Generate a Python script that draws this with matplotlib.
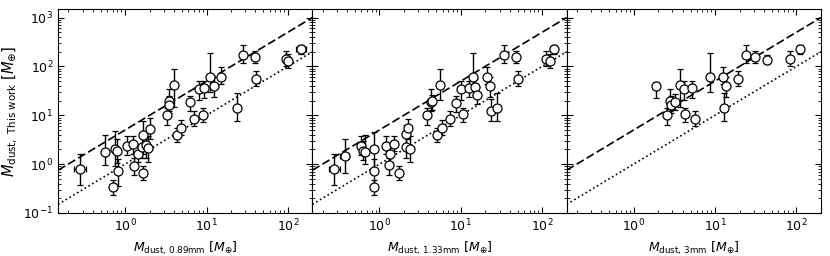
import numpy as np
import matplotlib
matplotlib.use("Agg")
from matplotlib import pyplot as plt

# Panel 1: M_dust at 0.89 mm vs this work
x_089 = [0.28, 0.56, 0.745, 0.80, 0.82, 0.70, 1.05, 1.25, 1.30, 1.45, 1.60, 1.68, 1.68, 1.82, 1.90, 2.0,
         3.3, 3.45, 3.5, 3.95, 4.4, 4.8, 6.3, 7.1, 8.1, 9.1, 9.3, 10.9, 12.5, 15.1, 23.4, 28.0, 39.4,
         40.7, 96.0, 100.0, 144.0]
y_089 = [0.79, 1.77, 2.07, 1.9, 0.71, 0.34, 2.3, 2.6, 0.92, 1.63, 2.2, 4.0, 0.65, 2.5, 2.1, 5.3,
         10.3, 20.0, 16.6, 41.0, 3.9, 5.5, 18.5, 8.5, 34.0, 10.3, 36.0, 61.0, 40.0, 61.0, 14.1, 168.0, 158.0,
         54.0, 139.0, 128.0, 230.0]
ylo_089 = [0.38, 0.97, 0.9, 1.05, 0.35, 0.23, 1.55, 1.65, 0.6, 1.1, 1.35, 1.6, 0.48, 1.35, 1.1, 3.2,
           6.4, 12.0, 11.0, 15.0, 2.8, 3.9, 12.0, 6.0, 21.0, 7.3, 23.0, 30.0, 24.0, 43.0, 7.5, 118.0, 118.0,
           39.0, 100.0, 95.0, 180.0]
yhi_089 = [1.63, 4.0, 4.7, 3.2, 1.3, 0.48, 3.7, 3.7, 1.33, 2.4, 3.7, 7.5, 0.9, 4.3, 3.7, 8.8,
           14.0, 34.0, 25.0, 87.0, 5.5, 8.0, 25.0, 12.0, 50.0, 14.0, 50.0, 190.0, 62.0, 98.0, 29.0, 280.0, 210.0,
           80.0, 210.0, 180.0, 280.0]
xlo_089 = {0: 0.235, 36: 125.0}
xhi_089 = {0: 0.33, 36: 165.0}

# Panel 2: M_dust at 1.33 mm vs this work
x_133 = [0.28, 0.375, 0.60, 0.63, 0.67, 0.87, 0.87, 0.85, 1.2, 1.3, 1.36, 1.5, 1.73, 2.15, 2.25, 2.1,
         2.4, 3.8, 4.3, 4.45, 5.6, 5.1, 5.9, 7.4, 8.8, 10.0, 10.7, 12.7, 14.2, 14.8, 16.0, 20.8, 23.0,
         23.6, 28.0, 34.0, 47.5, 50.0, 112.0, 124.0, 138.0]
y_133 = [0.80, 1.44, 2.3, 1.9, 1.8, 2.07, 0.71, 0.34, 2.3, 0.94, 1.63, 2.6, 0.65, 4.2, 5.5, 2.2,
         2.0, 10.3, 18.8, 20.0, 41.0, 3.9, 5.5, 8.5, 18.0, 34.0, 10.6, 36.0, 61.0, 38.0, 26.5, 61.0, 40.0,
         12.5, 14.1, 168.0, 158.0, 54.0, 139.0, 128.0, 230.0]
ylo_133 = [0.38, 0.65, 1.55, 1.2, 1.0, 0.8, 0.35, 0.23, 1.6, 0.6, 1.1, 1.9, 0.48, 2.6, 3.2, 1.35,
           1.1, 6.4, 12.0, 13.0, 21.0, 2.8, 3.9, 6.0, 11.5, 21.0, 7.3, 24.0, 31.0, 26.0, 17.0, 43.0, 24.0,
           7.5, 7.5, 118.0, 118.0, 39.0, 100.0, 95.0, 180.0]
yhi_133 = [1.63, 3.2, 3.7, 3.0, 3.9, 4.5, 1.3, 0.48, 3.8, 1.33, 2.3, 3.7, 0.9, 6.3, 8.5, 3.7,
           3.7, 14.0, 34.0, 26.0, 87.0, 5.5, 8.0, 12.0, 25.0, 50.0, 14.0, 50.0, 190.0, 55.0, 38.0, 98.0, 62.0,
           22.0, 29.0, 280.0, 210.0, 80.0, 210.0, 180.0, 280.0]
xlo_133 = {0: 0.24, 1: 0.33, 7: 0.80, 40: 125.0}
xhi_133 = {0: 0.33, 1: 0.42, 7: 0.91, 40: 152.0}

# Panel 3: M_dust at 3 mm vs this work
x_3mm = [1.87, 2.6, 2.8, 2.9, 3.2, 3.7, 4.2, 4.25, 5.2, 5.65, 8.7, 12.6, 12.8, 13.5, 19.0, 24.0,
         30.6, 43.7, 83.0, 112.0]
y_3mm = [39.5, 10.3, 20.0, 16.0, 19.0, 41.0, 34.0, 10.6, 36.0, 8.5, 61.0, 61.0, 14.1, 40.0, 54.0, 168.0,
         158.0, 133.0, 143.0, 230.0]
ylo_3mm = [23.0, 6.4, 12.0, 11.0, 13.0, 15.0, 21.0, 7.3, 23.0, 6.0, 30.0, 43.0, 7.5, 24.0, 39.0, 118.0,
           118.0, 110.0, 100.0, 180.0]
yhi_3mm = [48.0, 14.0, 34.0, 25.0, 27.0, 87.0, 50.0, 14.0, 50.0, 12.0, 190.0, 98.0, 29.0, 62.0, 80.0, 280.0,
           210.0, 170.0, 210.0, 280.0]

panels = [
    (x_089, y_089, ylo_089, yhi_089, xlo_089, xhi_089, r"$M_{\rm dust,\,0.89mm}$ [$M_{\oplus}$]"),
    (x_133, y_133, ylo_133, yhi_133, xlo_133, xhi_133, r"$M_{\rm dust,\,1.33mm}$ [$M_{\oplus}$]"),
    (x_3mm, y_3mm, ylo_3mm, yhi_3mm, {}, {}, r"$M_{\rm dust,\,3mm}$ [$M_{\oplus}$]"),
]

fig, axes = plt.subplots(1, 3, figsize=(8.3, 2.56), dpi=100, sharey=True)
fig.subplots_adjust(left=0.07, right=0.989, top=0.965, bottom=0.168, wspace=0)

line_x = np.array([0.15, 200.0])

for ax, (xs, ys, ylo, yhi, xlo, xhi, xlabel) in zip(axes, panels):
    xs = np.array(xs)
    ys = np.array(ys)
    yerr = np.array([ys - np.array(ylo), np.array(yhi) - ys])
    xerr = np.zeros((2, len(xs)))
    for i in xlo:
        xerr[0, i] = xs[i] - xlo[i]
        xerr[1, i] = xhi[i] - xs[i]

    # 5:1 and 1:1 reference lines
    ax.plot(line_x, 5 * line_x, color="black", linestyle="--", linewidth=1.2, dashes=(5, 2))
    ax.plot(line_x, line_x, color="black", linestyle=":", linewidth=1.2)

    ax.errorbar(xs, ys, yerr=yerr, xerr=xerr, fmt="o", color="black", mfc="white", mec="black",
                ms=6.5, mew=0.9, elinewidth=1.0, capsize=2.5, capthick=1.0)

    ax.set_xscale("log")
    ax.set_yscale("log")
    ax.set_xlim(0.15, 200)
    ax.set_ylim(0.1, 1500)
    ax.set_xlabel(xlabel, fontsize=9)
    ax.tick_params(which="both", direction="in", top=True, right=True, labelsize=9)
    ax.tick_params(which="major", length=4)
    ax.tick_params(which="minor", length=2)

axes[0].set_ylabel(r"$M_{\rm dust,\ This\ work}$ [$M_{\oplus}$]", fontsize=10.5, labelpad=2)

plt.savefig("out.png", dpi=100)
